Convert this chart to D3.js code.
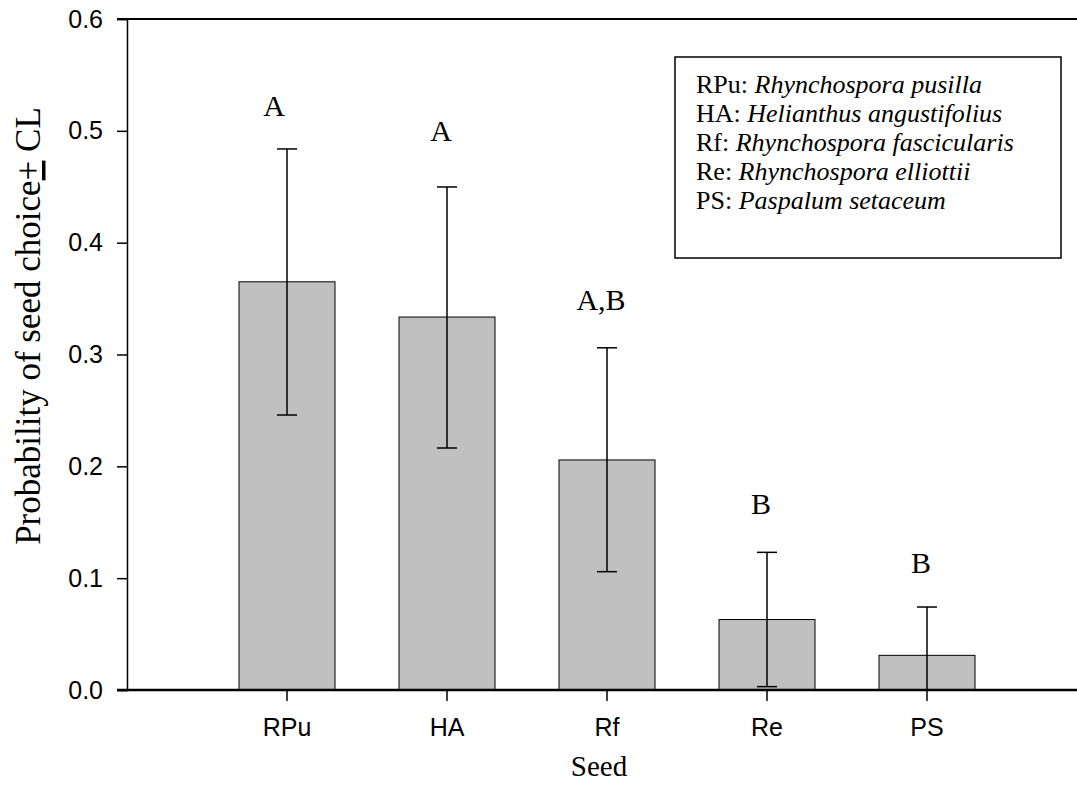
<!DOCTYPE html>
<html>
<head>
<meta charset="utf-8">
<script src="https://cdn.jsdelivr.net/npm/d3@7"></script>
<style>
body { margin: 0; background: #fff; }
svg { display: block; }
</style>
</head>
<body>
<div id="chart"></div>
<script>
// seed choice data
var seeds = ["RPu", "HA", "Rf", "Re", "PS"];
var prob = [0.365, 0.3335, 0.2057, 0.063, 0.031];
var upper = [0.4838, 0.4498, 0.306, 0.1231, 0.0742];
var lower = [0.2459, 0.2164, 0.1058, 0.003, -0.012];
var groups = ["A", "A", "A,B", "B", "B"];
var groupAt = [0.513, 0.491, 0.340, 0.157, 0.105];
var yTicks = [0.0, 0.1, 0.2, 0.3, 0.4, 0.5, 0.6];
var legendLines = [
  ["RPu: ", "Rhynchospora pusilla"],
  ["HA: ", "Helianthus angustifolius"],
  ["Rf: ", "Rhynchospora fascicularis"],
  ["Re: ", "Rhynchospora elliottii"],
  ["PS: ", "Paspalum setaceum"]
];

var width = 1077, height = 800;
var pLeft = 127, pRight = 1077, pTop = 19, pBottom = 690;

var svg = d3.select("#chart")
  .append("svg")
  .attr("width", width)
  .attr("height", height);

var x = d3.scaleBand()
  .domain(seeds)
  .range([pLeft + 80, pLeft + 80 + 800])
  .paddingInner(0.4)
  .paddingOuter(0.2);

var y = d3.scaleLinear()
  .domain([0, 0.6])
  .range([pBottom, pTop]);

var data = seeds.map(function (s, i) {
  return {seed: s, p: prob[i], hi: upper[i], lo: Math.max(0, lower[i]), g: groups[i], gy: groupAt[i]};
});

// bars
svg.append("g").selectAll("rect")
  .data(data)
  .enter()
  .append("rect")
  .attr("x", function (d) { return x(d.seed); })
  .attr("y", function (d) { return y(d.p); })
  .attr("width", x.bandwidth())
  .attr("height", function (d) { return y(0) - y(d.p); })
  .style("fill", "#c0c0c0")
  .style("stroke", "#000")
  .style("stroke-width", 1);

// error bars
var cx = function (d) { return x(d.seed) + x.bandwidth() / 2; };
var err = svg.append("g").style("stroke", "#000").style("stroke-width", 1.5);
err.selectAll(".stem")
  .data(data)
  .enter()
  .append("line")
  .attr("x1", cx).attr("x2", cx)
  .attr("y1", function (d) { return y(d.hi); })
  .attr("y2", function (d) { return y(d.lo); });
err.selectAll(".capHi")
  .data(data)
  .enter()
  .append("line")
  .attr("x1", function (d) { return cx(d) - 10; })
  .attr("x2", function (d) { return cx(d) + 10; })
  .attr("y1", function (d) { return y(d.hi); })
  .attr("y2", function (d) { return y(d.hi); });
err.selectAll(".capLo")
  .data(data.filter(function (d, i) { return lower[i] > 0; }))
  .enter()
  .append("line")
  .attr("x1", function (d) { return cx(d) - 10; })
  .attr("x2", function (d) { return cx(d) + 10; })
  .attr("y1", function (d) { return y(d.lo); })
  .attr("y2", function (d) { return y(d.lo); });

// group letters
svg.append("g").selectAll("text")
  .data(data)
  .enter()
  .append("text")
  .attr("x", function (d, i) { return cx(d) - (i == 0 ? 13 : 6); })
  .attr("y", function (d) { return y(d.gy); })
  .attr("text-anchor", "middle")
  .style("font-family", "'Liberation Serif', 'Times New Roman', serif")
  .style("font-size", "30px")
  .text(function (d) { return d.g; });

// axes
var yAxis = svg.append("g")
  .attr("transform", "translate(" + pLeft + ",0)")
  .call(d3.axisLeft(y).tickValues(yTicks).tickFormat(d3.format(".1f")).tickSizeOuter(0).tickSize(10).tickPadding(14));
yAxis.select(".domain").attr("stroke-width", 1.5);
yAxis.selectAll(".tick line").attr("stroke-width", 1.5);
yAxis.selectAll("text")
  .style("font-family", "'Liberation Sans', Arial, sans-serif")
  .style("font-size", "25px");

var xAxis = svg.append("g")
  .attr("transform", "translate(0," + pBottom + ")")
  .call(d3.axisBottom(x).tickSizeOuter(0).tickSize(11).tickPadding(17));
xAxis.select(".domain").remove();
xAxis.selectAll(".tick line").attr("stroke-width", 1.5);
xAxis.selectAll("text")
  .style("font-family", "'Liberation Sans', Arial, sans-serif")
  .style("font-size", "25px");

// bottom and top frame lines
svg.append("line")
  .attr("x1", pLeft - 10).attr("x2", pRight)
  .attr("y1", y(0)).attr("y2", y(0))
  .style("stroke", "#000").style("stroke-width", 2.5);
svg.append("line")
  .attr("x1", pLeft - 10).attr("x2", pRight)
  .attr("y1", y(0.6)).attr("y2", y(0.6))
  .style("stroke", "#000").style("stroke-width", 2);

// axis titles
svg.append("text")
  .attr("x", (pLeft + pRight) / 2 - 3)
  .attr("y", 776)
  .attr("text-anchor", "middle")
  .style("font-family", "'Liberation Serif', 'Times New Roman', serif")
  .style("font-size", "29px")
  .text("Seed");

var yt = svg.append("text")
  .attr("transform", "translate(40,326) rotate(-90)")
  .attr("text-anchor", "middle")
  .style("font-family", "'Liberation Serif', 'Times New Roman', serif")
  .style("font-size", "35px");
yt.append("tspan").text("Probability of seed choice");
yt.append("tspan").style("text-decoration", "underline").text("+");
yt.append("tspan").text(" CL");

// legend
var lg = svg.append("g");
lg.append("rect")
  .attr("x", 675).attr("y", 57)
  .attr("width", 386).attr("height", 201)
  .style("fill", "#fff")
  .style("stroke", "#000")
  .style("stroke-width", 1.5);
var lt = lg.selectAll("text")
  .data(legendLines)
  .enter()
  .append("text")
  .attr("x", 696)
  .attr("y", function (d, i) { return 93 + i * 29; })
  .style("font-family", "'Liberation Serif', 'Times New Roman', serif")
  .style("font-size", "26px");
lt.append("tspan").text(function (d) { return d[0]; });
lt.append("tspan").style("font-style", "italic").text(function (d) { return d[1]; });
</script>
</body>
</html>
